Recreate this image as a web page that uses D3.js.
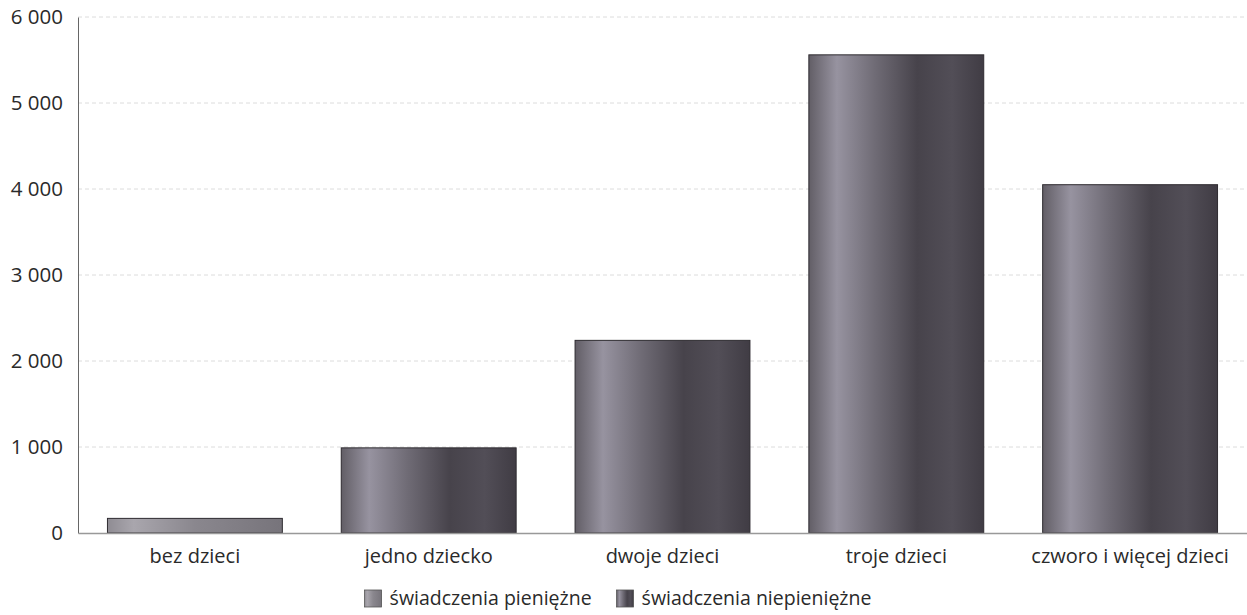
<!DOCTYPE html>
<html><head><meta charset="utf-8">
<script src="https://cdn.jsdelivr.net/npm/d3@7"></script>
<style>
html,body{margin:0;padding:0;background:#fff;}
svg{display:block;font-family:"Open Sans","Noto Sans",sans-serif;}
</style></head><body>
<svg id="chart" width="1247" height="615"></svg>
<script>
const categories = ["bez dzieci","jedno dziecko","dwoje dzieci","troje dzieci","czworo i więcej dzieci"];
const seriesNames = ["świadczenia pieniężne","świadczenia niepieniężne"];
const pieniezne = [170, 0, 0, 0, 0];
const niepieniezne = [0, 990, 2240, 5560, 4050];
const yTicks = [0,1000,2000,3000,4000,5000,6000];

const svg = d3.select("#chart");
const W = 1247, H = 615;
const m = {left:78, right:0, top:17, bottom:82};
const x = d3.scaleBand().domain(categories).range([m.left, W - m.right]).paddingInner(0.252).paddingOuter(0.126);
const y = d3.scaleLinear().domain([0,6000]).range([H - m.bottom, m.top]);
const FONT = "'Open Sans','Noto Sans',sans-serif";

const defs = svg.append("defs");
function grad(id, stops){
  const g = defs.append("linearGradient").attr("id", id).attr("x1","0%").attr("x2","100%").attr("y1","0%").attr("y2","0%");
  stops.forEach(s => g.append("stop").attr("offset", s[0]).attr("stop-color", s[1]));
}
grad("gLight", [["0%","#8f8c93"],["15%","#a9a6ad"],["50%","#8a878e"],["100%","#77747b"]]);
grad("gDark", [["0%","#625e66"],["16%","#9793a0"],["38%","#6f6b75"],["62%","#47434b"],["82%","#524e57"],["100%","#403c44"]]);
const fills = ["url(#gLight)","url(#gDark)"];

// gridlines
svg.append("g").selectAll("line").data(yTicks.filter(d=>d>0)).join("line")
  .attr("x1", m.left).attr("x2", W).attr("y1", d=>y(d)).attr("y2", d=>y(d))
  .attr("stroke","#dcdcdc").attr("stroke-width",1).attr("stroke-dasharray","4,3");

// stacked bars
const rows = categories.map((c,i)=>({cat:c, "świadczenia pieniężne":pieniezne[i], "świadczenia niepieniężne":niepieniezne[i]}));
const stack = d3.stack().keys(seriesNames)(rows);
svg.append("g").selectAll("g").data(stack).join("g")
  .attr("fill",(d,i)=>fills[i])
  .selectAll("rect").data(d=>d.filter(v=>v[1]>v[0])).join("rect")
  .attr("x", d=>x(d.data.cat)).attr("width", x.bandwidth())
  .attr("y", d=>y(d[1])).attr("height", d=>y(d[0])-y(d[1]))
  .attr("stroke","#2e2b30").attr("stroke-width",1);

// axes
const yAxis = svg.append("g").attr("transform",`translate(${m.left},0)`)
  .call(d3.axisLeft(y).tickValues(yTicks).tickSize(0).tickPadding(15)
    .tickFormat(d=>d3.format(",")(d).replace(/,/g," ")));
yAxis.select(".domain").attr("stroke","#666").attr("stroke-width",1);
yAxis.selectAll("text").attr("font-size",20.5).attr("fill","#2a2a2a").attr("font-family",FONT);

const xAxis = svg.append("g").attr("transform",`translate(0,${y(0)})`)
  .call(d3.axisBottom(x).tickSize(0).tickPadding(16));
xAxis.select(".domain").attr("stroke","#999").attr("stroke-width",1.5);
xAxis.selectAll("text").attr("font-size",20).attr("fill","#2a2a2a").attr("font-family",FONT);

// legend
const lg = svg.append("g");
const items = lg.selectAll("g").data(seriesNames).join("g");
items.each(function(d,i){
  const g = d3.select(this);
  g.append("rect").attr("x",0).attr("y",-15).attr("width",17).attr("height",17)
    .attr("fill",fills[i]).attr("stroke","#555").attr("stroke-width",0.8);
  g.append("text").attr("x",25).attr("y",0).text(d).attr("font-size",19.5).attr("fill","#2a2a2a").attr("font-family",FONT);
});
const widths=[];
items.each(function(){ widths.push(this.getBBox().width); });
const gap = 25;
const total = d3.sum(widths) + gap*(widths.length-1);
let start = 618 - total/2;
items.attr("transform",(d,i)=>{ const t=`translate(${start},${605})`; start += widths[i]+gap; return t; });
</script>
</body></html>
